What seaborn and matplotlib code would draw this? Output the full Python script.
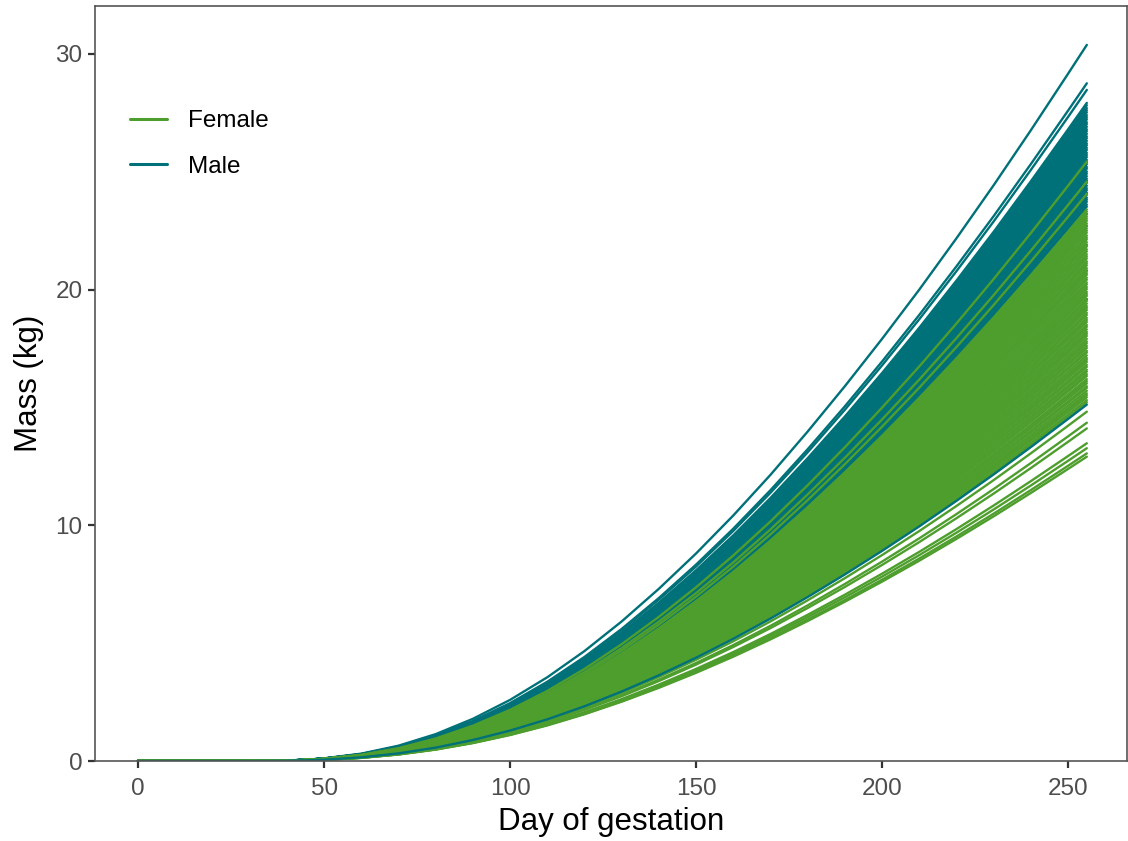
import numpy as np
import pandas as pd
import matplotlib
matplotlib.use("Agg")
import matplotlib.pyplot as plt
import seaborn as sns
from matplotlib.lines import Line2D

# ---- data ----
# days at which growth curves are sampled
days = [0, 10, 20, 30, 40, 45, 50, 60, 70, 80, 90, 100, 110, 120,
        130, 140, 150, 160, 170, 180, 190, 200, 210, 220, 230, 240, 250, 255]
# fraction of final (day 255) mass reached on each day
growth_fraction = [0.0, 0.0, 0.0, 0.000007, 0.000684, 0.001794, 0.003674,
                   0.010289, 0.021415, 0.037562, 0.058955, 0.085416, 0.117002,
                   0.153646, 0.195011, 0.240642, 0.289986, 0.343, 0.399827,
                   0.460278, 0.523607, 0.589745, 0.658503, 0.730216, 0.804357,
                   0.881147, 0.960044, 1.0]

# mass (kg) at day 255 of each simulated fetus
male_final = [19.6, 20.8, 21.9, 22.7, 23.2,
              23.52, 23.61, 23.73, 23.82, 23.90, 24.02, 24.11, 24.22, 24.30, 24.41,
              24.53, 24.62, 24.70, 24.81, 24.92, 25.01, 25.13, 25.20, 25.32, 25.41,
              25.50, 25.62, 25.71, 25.80, 25.92, 26.01, 26.12, 26.20, 26.31, 26.42,
              26.50, 26.61, 26.72, 26.80, 26.91, 27.02, 27.10, 27.22, 27.31, 27.40,
              27.52, 27.61, 27.70, 27.82, 27.92, 28.47, 28.75, 30.38]
female_final = [12.91, 13.05, 13.27, 13.48, 14.11, 14.35, 14.82,
                15.22, 15.31, 15.43, 15.52, 15.60, 15.71, 15.83, 15.90, 16.02, 16.11,
                16.20, 16.33, 16.41, 16.52, 16.60, 16.72, 16.81, 16.93, 17.02, 17.10,
                17.21, 17.33, 17.40, 17.52, 17.61, 17.72, 17.80, 17.91, 18.03, 18.12,
                18.20, 18.31, 18.42, 18.50, 18.62, 18.71, 18.80, 18.92, 19.01, 19.13,
                19.22, 19.30, 19.41, 19.52, 19.60, 19.73, 19.81, 19.90, 20.02, 20.11,
                20.22, 20.30, 20.42, 20.51, 20.63, 20.70, 20.82, 20.91, 21.03, 21.12,
                21.20, 21.32, 21.41, 21.50, 21.62, 21.71, 21.83, 21.90, 22.01, 22.13,
                22.21, 22.30, 22.42, 22.51, 22.60, 22.72, 22.81, 22.92, 23.01, 23.10,
                23.22, 23.31, 23.40, 24.06, 24.58, 25.43]
male_final_late = [15.12]   # male curves drawn after the female ones

sexes = ["Female", "Male"]
x_ticks = [0, 50, 100, 150, 200, 250]
y_ticks = [0, 10, 20, 30]

colors = {"Female": "#4e9e2e", "Male": "#007178"}


def build(finals, sex, start_id):
    rows = []
    for i, m in enumerate(finals):
        for d, f in zip(days, growth_fraction):
            rows.append((start_id + i, sex, d, m * f))
    return pd.DataFrame(rows, columns=["id", "sex", "day", "mass"])


df_male = build(male_final, "Male", 0)
df_female = build(female_final, "Female", 1000)
df_male_late = build(male_final_late, "Male", 2000)

sns.set_theme(style="white")
plt.rcParams["font.family"] = ["Liberation Sans", "DejaVu Sans"]

fig = plt.figure(figsize=(11.28, 8.41), dpi=100)
ax = fig.add_axes([95 / 1128, 1 - 761 / 841, 1032 / 1128, 755 / 841])

lw = 1.7
for d in (df_male, df_female, df_male_late):
    sex = d["sex"].iloc[0]
    sns.lineplot(data=d, x="day", y="mass", units="id", estimator=None,
                 color=colors[sex], lw=lw, legend=False, sort=False, ax=ax)

ax.set_xlim(-11.6, 265.8)
ax.set_ylim(0, 32.03)
ax.set_xticks(x_ticks)
ax.set_yticks(y_ticks)
ax.set_xlabel("Day of gestation", fontsize=22.5, color="black", labelpad=5)
ax.set_ylabel("Mass (kg)", fontsize=22.5, color="black", labelpad=8)
ax.tick_params(axis="both", labelsize=17.5, labelcolor="#4d4d4d", color="#333333",
               length=5, width=1.6, direction="out", bottom=True, left=True)
ax.tick_params(axis="x", pad=7.5)
ax.tick_params(axis="y", pad=4)
for s in ax.spines.values():
    s.set_color("#555555")
    s.set_linewidth(1.2)
    s.set_visible(True)

handles = [Line2D([0], [0], color=colors[s], lw=2.2) for s in sexes]
leg = ax.legend(handles, sexes, loc="upper left", bbox_to_anchor=(0.034, 0.862),
                frameon=False, fontsize=17.5, handlelength=1.5, handletextpad=0.9,
                labelspacing=0.97, borderpad=0, borderaxespad=0)
for t in leg.get_texts():
    t.set_color("black")

fig.savefig("out.png", dpi=100)
